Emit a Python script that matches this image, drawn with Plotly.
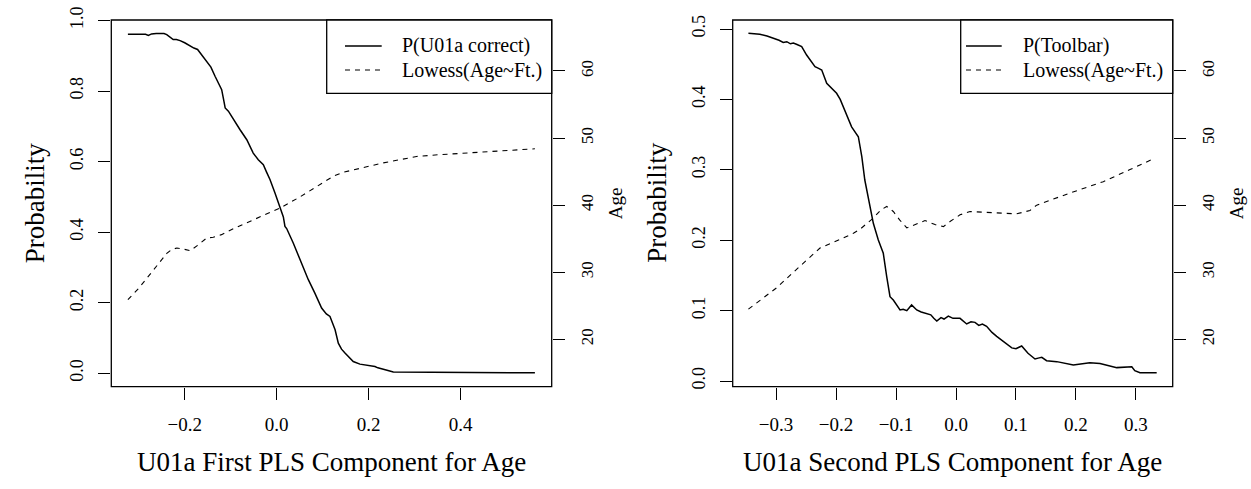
import plotly.graph_objects as go

# ---------------- data ----------------
comp1_x = [-0.3235, -0.300, -0.285, -0.279, -0.272, -0.262, -0.252, -0.245, -0.239, -0.232,
           -0.225, -0.218, -0.210, -0.200, -0.188, -0.180, -0.172, -0.166, -0.160, -0.152,
           -0.143, -0.134, -0.127, -0.1196, -0.116, -0.112, -0.105, -0.094, -0.080, -0.065,
           -0.051, -0.040, -0.029, -0.022, -0.0146, -0.0037, 0.007, 0.0145, 0.018, 0.0217,
           0.036, 0.045, 0.054, 0.0688, 0.083, 0.0977, 0.108, 0.1159, 0.122, 0.127,
           0.134, 0.141, 0.1485, 0.1665, 0.181, 0.200, 0.2137, 0.220, 0.228, 0.240,
           0.2536, 0.300, 0.370, 0.380, 0.450, 0.5615]
p_u01a = [0.961, 0.961, 0.961, 0.958, 0.962, 0.963, 0.962, 0.963, 0.960, 0.952,
          0.946, 0.946, 0.943, 0.937, 0.927, 0.922, 0.918, 0.907, 0.897, 0.884,
          0.868, 0.842, 0.825, 0.804, 0.780, 0.752, 0.743, 0.719, 0.691, 0.662,
          0.624, 0.605, 0.591, 0.570, 0.549, 0.511, 0.470, 0.443, 0.416, 0.410,
          0.369, 0.340, 0.312, 0.265, 0.227, 0.1845, 0.168, 0.1607, 0.140, 0.1229,
          0.085, 0.068, 0.0568, 0.033, 0.0255, 0.021, 0.0187, 0.015, 0.0113, 0.008,
          0.003, 0.003, 0.003, 0.001, 0.001, 0.001]

lowess1_x = [-0.3235, -0.30, -0.28, -0.26, -0.239, -0.228, -0.217, -0.200, -0.188, -0.172,
             -0.159, -0.152, -0.138, -0.120, -0.094, -0.06, -0.03, 0.007, 0.05, 0.094,
             0.123, 0.145, 0.18, 0.2028, 0.232, 0.27, 0.304, 0.35, 0.413, 0.48, 0.5615]
lowess1_age = [25.9, 27.6, 29.3, 31.0, 32.8, 33.4, 33.6, 33.4, 33.2, 34.0,
               34.8, 35.1, 35.2, 35.6, 36.5, 37.5, 38.5, 39.55, 41.2, 43.0,
               44.3, 44.9, 45.5, 45.8, 46.3, 46.8, 47.25, 47.5, 47.8, 48.1, 48.4]

comp2_x = [-0.346, -0.327, -0.315, -0.3045, -0.295, -0.288, -0.282, -0.276, -0.271, -0.265,
           -0.260, -0.2572, -0.249, -0.242, -0.235, -0.229, -0.2238, -0.2155, -0.208, -0.199,
           -0.193, -0.188, -0.181, -0.174, -0.1628, -0.157, -0.152, -0.146, -0.143, -0.1378,
           -0.1295, -0.1212, -0.1155, -0.110, -0.1045, -0.0933, -0.088, -0.082, -0.074, -0.0655,
           -0.058, -0.0488, -0.042, -0.037, -0.032, -0.025, -0.020, -0.0128, -0.005, 0.0067,
           0.012, 0.0178, 0.025, 0.0317, 0.038, 0.044, 0.051, 0.060, 0.0678, 0.080,
           0.093, 0.100, 0.1095, 0.120, 0.1317, 0.137, 0.143, 0.151, 0.168, 0.1956,
           0.210, 0.223, 0.240, 0.255, 0.268, 0.293, 0.298, 0.3067, 0.3345]
p_toolbar = [0.494, 0.4925, 0.490, 0.487, 0.484, 0.481, 0.482, 0.479, 0.480, 0.478,
             0.476, 0.4749, 0.463, 0.455, 0.4465, 0.444, 0.4418, 0.423, 0.416, 0.4087,
             0.400, 0.3896, 0.376, 0.361, 0.347, 0.3186, 0.2855, 0.257, 0.2429, 0.224,
             0.2003, 0.1814, 0.1482, 0.1198, 0.115, 0.1009, 0.102, 0.0999, 0.108, 0.1009,
             0.098, 0.0952, 0.094, 0.089, 0.0852, 0.090, 0.088, 0.0923, 0.089, 0.089,
             0.085, 0.081, 0.084, 0.0833, 0.079, 0.081, 0.0776, 0.069, 0.0634, 0.056,
             0.047, 0.046, 0.0497, 0.0393, 0.0312, 0.0325, 0.0336, 0.0289, 0.0275, 0.0227,
             0.024, 0.026, 0.025, 0.022, 0.019, 0.0203, 0.0147, 0.0118, 0.0118]

lowess2_x = [-0.346, -0.30, -0.26, -0.2267, -0.193, -0.171, -0.16, -0.143, -0.138, -0.125,
             -0.1155, -0.1045, -0.094, -0.082, -0.065, -0.0517, -0.035, -0.021, -0.01, 0.0067,
             0.0233, 0.062, 0.101, 0.1233, 0.1345, 0.19, 0.2455, 0.29, 0.329]
lowess2_age = [24.5, 27.6, 30.9, 33.6, 34.9, 35.8, 36.4, 37.6, 38.06, 39.3,
               39.8, 39.05, 37.8, 36.6, 37.2, 37.7, 37.1, 36.8, 37.55, 38.55,
               39.05, 38.9, 38.7, 39.2, 40.0, 41.8, 43.5, 45.3, 46.9]

x_titles = ["U01a First PLS Component for Age", "U01a Second PLS Component for Age"]
legend_labels = [["P(U01a correct)", "Lowess(Age~Ft.)"], ["P(Toolbar)", "Lowess(Age~Ft.)"]]

# ---------------- layout geometry ----------------
W, H = 1251, 489
FONT = "Liberation Serif"
px_x = lambda p: p / W
px_y = lambda p: 1 - p / H

fig = go.Figure()
fig.add_trace(go.Scatter(x=comp1_x, y=p_u01a, mode="lines", xaxis="x", yaxis="y",
                         line=dict(color="black", width=1.5), showlegend=False))
fig.add_trace(go.Scatter(x=lowess1_x, y=lowess1_age, mode="lines", xaxis="x", yaxis="y3",
                         line=dict(color="black", width=1.1, dash="5px,5px"), showlegend=False))
fig.add_trace(go.Scatter(x=comp2_x, y=p_toolbar, mode="lines", xaxis="x2", yaxis="y2",
                         line=dict(color="black", width=1.5), showlegend=False))
fig.add_trace(go.Scatter(x=lowess2_x, y=lowess2_age, mode="lines", xaxis="x2", yaxis="y4",
                         line=dict(color="black", width=1.1, dash="5px,5px"), showlegend=False))

ydom = [px_y(386.7), px_y(20)]
dom1 = [px_x(111.3), px_x(551.7)]
dom2 = [px_x(732.7), px_x(1172.7)]

common = dict(showgrid=False, zeroline=False, showline=False, ticks="outside", ticklen=12,
              tickwidth=1, tickcolor="black", color="black", automargin=False)

fig.update_layout(
    template="none",
    width=W, height=H, margin=dict(l=0, r=0, t=0, b=0, pad=0), autosize=False,
    paper_bgcolor="white", plot_bgcolor="white",
    font=dict(family=FONT, color="black"),
    xaxis=dict(domain=dom1, range=[-0.3596, 0.598], anchor="y", tickvals=[-0.2, 0.0, 0.2, 0.4],
               ticktext=["\u22120.2", "0.0", "0.2", "0.4"], tickfont=dict(size=19),
               ticklabelstandoff=8, **common),
    yaxis=dict(domain=ydom, range=[-0.0385, 1.0015], anchor="x", tickvals=[0, 0.2, 0.4, 0.6, 0.8, 1.0],
               ticktext=["0.0", "0.2", "0.4", "0.6", "0.8", "1.0"], tickangle=-90,
               tickfont=dict(size=18), ticklabelstandoff=8, **common),
    yaxis3=dict(range=[12.93, 67.6], overlaying="y", anchor="x", side="right",
                tickvals=[20, 30, 40, 50, 60], tickangle=-90, tickfont=dict(size=17),
                ticklabelstandoff=8, **common),
    xaxis2=dict(domain=dom2, range=[-0.3722, 0.3612], anchor="y2",
                tickvals=[-0.3, -0.2, -0.1, 0.0, 0.1, 0.2, 0.3],
                ticktext=["\u22120.3", "\u22120.2", "\u22120.1", "0.0", "0.1", "0.2", "0.3"],
                tickfont=dict(size=19), ticklabelstandoff=8, **common),
    yaxis2=dict(domain=ydom, range=[-0.0081, 0.5128], anchor="x2",
                tickvals=[0, 0.1, 0.2, 0.3, 0.4, 0.5],
                ticktext=["0.0", "0.1", "0.2", "0.3", "0.4", "0.5"], tickangle=-90,
                tickfont=dict(size=18), ticklabelstandoff=8, **common),
    yaxis4=dict(range=[12.93, 67.6], overlaying="y2", anchor="x2", side="right",
                tickvals=[20, 30, 40, 50, 60], tickangle=-90, tickfont=dict(size=17),
                ticklabelstandoff=8, **common),
)

shapes = []
annotations = []
for i, (xd, xref, yref) in enumerate([(dom1, "x", "y"), (dom2, "x2", "y2")]):
    # plot box
    shapes.append(dict(type="rect", xref=xref + " domain", yref=yref + " domain",
                       x0=0, x1=1, y0=0, y1=1, line=dict(color="black", width=1.3)))
    cx = (xd[0] + xd[1]) / 2
    annotations.append(dict(text=x_titles[i], x=cx, y=px_y(462), xref="paper", yref="paper",
                            showarrow=False, font=dict(size=27, family=FONT),
                            xanchor="center", yanchor="middle"))
    left_px = xd[0] * W
    right_px = xd[1] * W
    annotations.append(dict(text="Probability", x=px_x(left_px - 76), y=px_y(203), xref="paper",
                            yref="paper", showarrow=False, textangle=-90,
                            font=dict(size=27, family=FONT), xanchor="center", yanchor="middle"))
    annotations.append(dict(text="Age", x=px_x(right_px + 63.5), y=px_y(203), xref="paper",
                            yref="paper", showarrow=False, textangle=-90,
                            font=dict(size=19, family=FONT), xanchor="center", yanchor="middle"))

# legends (decoration)
leg_geo = [dict(x0=326.7, x1=551.7, l0=345, l1=381.7, tx=400),
           dict(x0=960.7, x1=1172.7, l0=966, l1=1001.7, tx=1020.7)]
for i, g in enumerate(leg_geo):
    shapes.append(dict(type="rect", xref="paper", yref="paper", x0=px_x(g["x0"]), x1=px_x(g["x1"]),
                       y0=px_y(93.3), y1=px_y(20), line=dict(color="black", width=1.3),
                       fillcolor="white", layer="above"))
    for j, (yy, dash) in enumerate([(46, "solid"), (70, "5px,5px")]):
        shapes.append(dict(type="line", xref="paper", yref="paper", x0=px_x(g["l0"]), x1=px_x(g["l1"]),
                           y0=px_y(yy), y1=px_y(yy),
                           line=dict(color="black", width=1.5 if j == 0 else 1.1, dash=dash)))
        annotations.append(dict(text=legend_labels[i][j], x=px_x(g["tx"]), y=px_y(yy), xref="paper",
                                yref="paper", showarrow=False, xanchor="left", yanchor="middle",
                                font=dict(size=20, family=FONT)))

fig.update_layout(shapes=shapes, annotations=annotations)
fig.write_html("out.html", config={"displayModeBar": False},
               post_script="document.body.style.margin='0';document.body.style.overflow='hidden';")
